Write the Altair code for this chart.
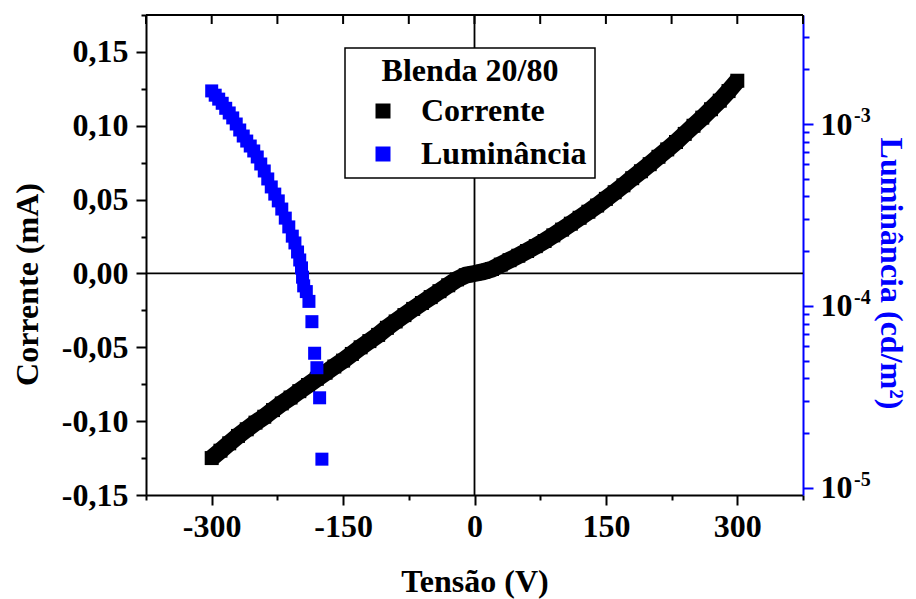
import altair as alt
import pandas as pd

# ---------------- data ----------------
tensao = [-300, -290, -280, -270, -260, -250, -240, -230, -220, -210,
          -200, -190, -180, -170, -160, -150, -140, -130, -120, -110,
          -100, -90, -80, -70, -60, -50, -40, -30, -20, -10,
          0, 10, 20, 30, 40, 50, 60, 70, 80, 90,
          100, 110, 120, 130, 140, 150, 160, 170, 180, 190,
          200, 210, 220, 230, 240, 250, 260, 270, 280, 290, 300]
corrente = [-0.1250, -0.1200, -0.1150, -0.1100, -0.1055, -0.1010, -0.0970, -0.0925, -0.0880, -0.0840,
            -0.0797, -0.0755, -0.0713, -0.0672, -0.0630, -0.0590, -0.0545, -0.0500, -0.0458, -0.0416,
            -0.0368, -0.0325, -0.0282, -0.0240, -0.0200, -0.0160, -0.0120, -0.0080, -0.0040, -0.0012,
            0.0000, 0.0012, 0.0030, 0.0060, 0.0090, 0.0120, 0.0152, 0.0185, 0.0220, 0.0258,
            0.0297, 0.0337, 0.0377, 0.0418, 0.0460, 0.0505, 0.0550, 0.0597, 0.0645, 0.0692,
            0.0740, 0.0790, 0.0840, 0.0890, 0.0945, 0.1000, 0.1055, 0.1112, 0.1170, 0.1235, 0.1305]

tensao_lum = [-300, -296, -292, -288, -284, -280, -276, -272, -268, -264,
              -260, -256, -252, -248, -244, -240, -236, -232, -228, -224,
              -220, -216, -212, -208, -205, -202, -199.5, -197.5, -196.3, -195.0,
              -192.0, -189.0, -185.6, -182.5, -179.9, -176.8, -174.2]
luminancia = [1.52e-3, 1.44e-3, 1.37e-3, 1.30e-3, 1.22e-3, 1.15e-3, 1.08e-3, 1.00e-3, 9.27e-4, 8.59e-4,
              8.06e-4, 7.57e-4, 7.11e-4, 6.59e-4, 6.03e-4, 5.52e-4, 4.99e-4, 4.51e-4, 4.12e-4, 3.78e-4,
              3.41e-4, 3.04e-4, 2.72e-4, 2.42e-4, 2.22e-4, 1.98e-4, 1.79e-4, 1.62e-4, 1.44e-4, 1.29e-4,
              1.20e-4, 1.06e-4, 8.20e-5, 5.50e-5, 4.58e-5, 3.13e-5, 1.44e-5]

x_ticks = [-375, -300, -225, -150, -75, 0, 75, 150, 225, 300, 375]
i_ticks = [-0.15, -0.125, -0.10, -0.075, -0.05, -0.025, 0.0, 0.025, 0.05, 0.075, 0.10, 0.125, 0.15, 0.175]
l_ticks = [1e-5, 2e-5, 3e-5, 4e-5, 5e-5, 6e-5, 7e-5, 8e-5, 9e-5,
           1e-4, 2e-4, 3e-4, 4e-4, 5e-4, 6e-4, 7e-4, 8e-4, 9e-4,
           1e-3, 2e-3, 3e-3]
l_major = [1e-5, 1e-4, 1e-3]
l_expoentes = ["-5", "-4", "-3"]
series = ["Corrente", "Luminância"]
cores = ["#000000", "#0000ff"]

FONT = "'Liberation Serif', 'Times New Roman', Times, serif"
BLUE = "#0000ff"
W, H = 657, 480

df_i = pd.DataFrame({"V": tensao, "I": corrente, "serie": series[0]})
df_l = pd.DataFrame({"V": tensao_lum, "L": luminancia, "serie": series[1]})

# ---------------- scales & axes ----------------
x_scale = alt.Scale(domain=[-375, 375], nice=False, zero=False)
i_scale = alt.Scale(domain=[-0.15, 0.175], nice=False, zero=False)
l_scale = alt.Scale(type="log", domain=[9.15e-6, 3.972e-3], nice=False)
color_scale = alt.Scale(domain=series, range=cores)

x_axis = alt.Axis(
    title="Tensão (V)", values=x_ticks, grid=False,
    labelExpr="datum.value % 150 == 0 ? (datum.value < 0 ? '-' : '') + abs(datum.value) : ''",
    tickSize={"condition": {"test": "datum.value % 150 == 0", "value": 10}, "value": 5},
    labelPadding=6, labelFlush=False, labelOverlap=False,
    titleY=96, titleBaseline="alphabetic",
)
i_axis = alt.Axis(
    title="Corrente (mA)", orient="left", values=i_ticks, grid=False,
    labelExpr="abs(datum.value*20 - round(datum.value*20)) < 0.001 ? "
              "(datum.value < -0.0001 ? '-' : '') + replace(format(abs(datum.value), '.2f'), '.', ',') : ''",
    tickSize={"condition": {"test": "abs(datum.value*20 - round(datum.value*20)) < 0.001", "value": 10},
              "value": 5},
    labelPadding=8, labelFlush=False, labelOverlap=False,
    titleX=-119, titleY=269, titleBaseline="middle", titleAlign="center",
)
l_axis = alt.Axis(
    title="Luminância (cd/m²)", orient="right", values=l_ticks, grid=False,
    labelExpr="abs(log(datum.value)/LN10 - round(log(datum.value)/LN10)) < 0.01 ? '10' : ''",
    tickSize={"condition": {"test": "abs(log(datum.value)/LN10 - round(log(datum.value)/LN10)) < 0.01",
                            "value": 10}, "value": 6},
    labelPadding=7, labelFlush=False, labelOverlap=False,
    domainColor=BLUE, tickColor=BLUE, titleColor=BLUE,
    titleX=87, titleY=258, titleBaseline="middle", titleAlign="center", titleAngle=90,
)

X = alt.X("V:Q", scale=x_scale, axis=x_axis)
YI = alt.Y("I:Q", scale=i_scale, axis=i_axis)
YL = alt.Y("L:Q", scale=l_scale, axis=l_axis)

legend = alt.Legend(
    title="Blenda 20/80", orient="none", legendX=199, legendY=33, direction="vertical",
    titleFont=FONT, titleFontSize=32, titleFontWeight="bold", titleColor="black",
    labelFont=FONT, labelFontSize=32, labelFontWeight="bold", labelColor="black",
    labelLimit=400, titleLimit=400, titleAnchor="middle",
    symbolType="square", symbolSize=225, symbolStrokeWidth=0,
    symbolOffset=14, labelOffset=22, rowPadding=11, titlePadding=7,
    padding=8, strokeColor="black", fillColor="white",
)

# ---------------- current (left axis) ----------------
zero_h = alt.Chart(pd.DataFrame({"I": [0.0]})).mark_rule(color="black", strokeWidth=1.8).encode(y=YI)
zero_v = alt.Chart(pd.DataFrame({"V": [0]})).mark_rule(color="black", strokeWidth=1.8).encode(x=X)
top_border = alt.Chart(pd.DataFrame({"I": [0.175]})).mark_rule(color="black", strokeWidth=2).encode(y=YI)
top_ticks = alt.Chart(pd.DataFrame({"V": x_ticks})).mark_rule(color="black", strokeWidth=2).encode(
    x=X, y=alt.value(0), y2=alt.value(9))
band = alt.Chart(df_i).mark_line(color="black", strokeWidth=17, strokeCap="butt").encode(x=X, y=YI)
pts_i = alt.Chart(df_i).mark_square(size=196, opacity=1, strokeWidth=0).encode(
    x=X, y=YI, color=alt.Color("serie:N", scale=color_scale, legend=legend))

cur_layer = alt.layer(zero_h, zero_v, top_border, top_ticks, band, pts_i)

# ---------------- luminance (right log axis) ----------------
pts_l = alt.Chart(df_l).mark_square(size=169, opacity=1, strokeWidth=0).encode(
    x=X, y=YL, color=alt.Color("serie:N", scale=color_scale, legend=legend))
exp_txt = alt.Chart(pd.DataFrame({"L": l_major, "t": l_expoentes})).mark_text(
    align="left", baseline="middle", dy=-8, fontSize=20, fontWeight="bold", font=FONT, color="black"
).encode(x=alt.value(W + 51), y=YL, text="t:N")

lum_layer = alt.layer(pts_l, exp_txt)

chart = alt.layer(cur_layer, lum_layer).resolve_scale(y="independent").properties(
    width=W, height=H,
    autosize=alt.AutoSizeParams(type="none"),
    padding={"left": 146, "top": 15, "right": 113, "bottom": 104},
).configure_view(stroke=None).configure_axis(
    labelFont=FONT, labelFontSize=32, labelFontWeight="bold", labelColor="black",
    titleFont=FONT, titleFontSize=32, titleFontWeight="bold", titleColor="black",
    domainWidth=2, tickWidth=2, domainColor="black", tickColor="black",
).configure_legend(strokeWidth=1.5)

chart.save("out.html", embed_options={"renderer": "svg", "actions": False})
